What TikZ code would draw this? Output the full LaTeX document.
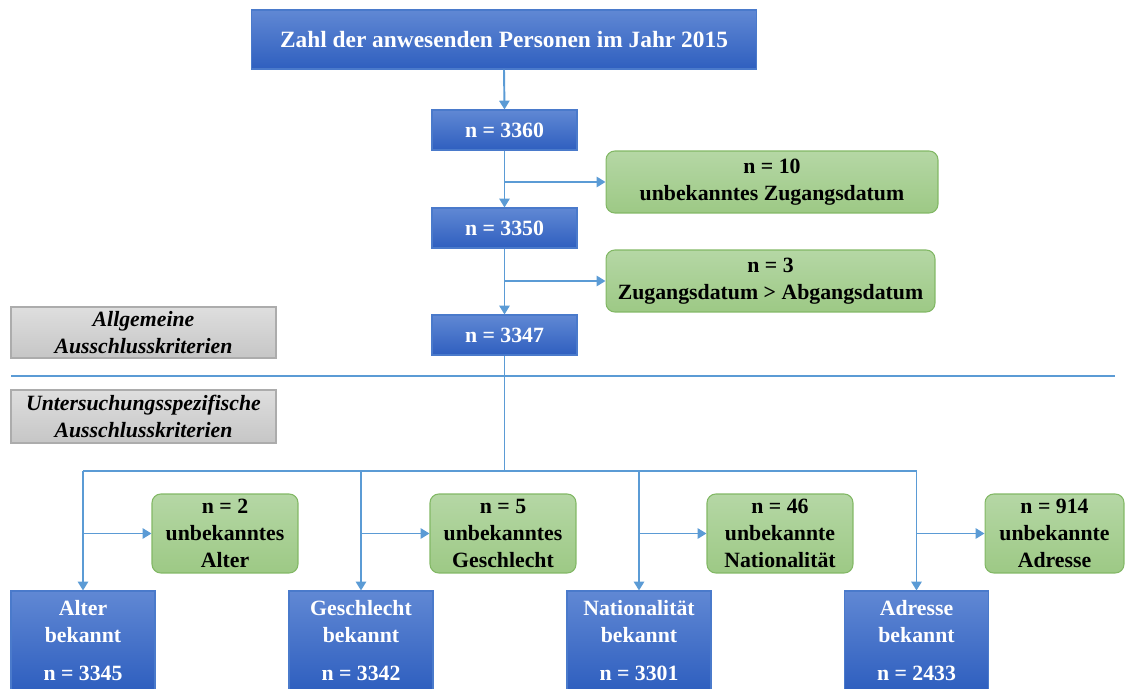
\documentclass[tikz,border=0pt]{standalone}
\usepackage{fontspec}
\setmainfont{Liberation Serif}
\usetikzlibrary{arrows.meta}
\definecolor{lineblue}{HTML}{5B9BD5}
\definecolor{bluetop}{HTML}{6088D4}
\definecolor{bluebot}{HTML}{2F5FBF}
\definecolor{blueedge}{HTML}{4A7ACB}
\definecolor{greentop}{HTML}{B5D7A5}
\definecolor{greenbot}{HTML}{9DC985}
\definecolor{greenedge}{HTML}{82B865}
\definecolor{graytop}{HTML}{DEDEDE}
\definecolor{graybot}{HTML}{C6C6C6}
\definecolor{grayedge}{HTML}{ACACAC}
\tikzset{
  txt/.style={font=\fontsize{12.4}{15.3}\selectfont\bfseries, align=center, inner sep=0pt},
  bluebox/.style={txt, text=white, draw=blueedge, line width=0.6pt, top color=bluetop, bottom color=bluebot},
  greenbox/.style={txt, text=black, draw=greenedge, line width=0.6pt, rounded corners=5pt, top color=greentop, bottom color=greenbot},
  graybox/.style={txt, text=black, font=\fontsize{12.4}{15.3}\selectfont\bfseries\itshape, draw=grayedge, line width=0.6pt, top color=graytop, bottom color=graybot},
  conn/.style={draw=lineblue, line width=1.1pt},
  arr/.style={conn, -{Triangle[length=5pt,width=5.8pt]}}
}
\begin{document}
\begin{tikzpicture}[x=0.02cm, y=-0.02cm]
\useasboundingbox (0,0) rectangle (1125,689);
% top column
\node[bluebox, font=\fontsize{13.3}{16}\selectfont\bfseries, minimum width=10.12cm, minimum height=1.18cm] (title) at (504,39.5) {Zahl der anwesenden Personen im Jahr 2015};
\node[bluebox, minimum width=2.9cm, minimum height=0.8cm] (n1) at (504.5,130) {n = 3360};
\node[bluebox, minimum width=2.9cm, minimum height=0.8cm] (n2) at (504.5,228) {n = 3350};
\node[bluebox, minimum width=2.9cm, minimum height=0.8cm] (n3) at (504.5,335) {n = 3347};
\node[greenbox, minimum width=6.64cm, minimum height=1.24cm] (g1) at (772,182) {n = 10\\unbekanntes Zugangsdatum};
\node[greenbox, minimum width=6.58cm, minimum height=1.24cm] (g2) at (770.5,281) {n = 3\\Zugangsdatum > Abgangsdatum};
% gray labels
\node[graybox, minimum width=5.3cm, minimum height=1.02cm] (k1) at (143.5,332.5) {Allgemeine\\Ausschlusskriterien};
\node[graybox, minimum width=5.3cm, minimum height=1.06cm] (k2) at (143.5,416.5) {Untersuchungsspezifische\\Ausschlusskriterien};
% divider
\draw[conn] (11,376) -- (1115,376);
% bottom row
\node[greenbox, minimum width=2.92cm, minimum height=1.58cm] (r1) at (225,533.5) {n = 2\\unbekanntes\\Alter};
\node[greenbox, minimum width=2.92cm, minimum height=1.58cm] (r2) at (503,533.5) {n = 5\\unbekanntes\\Geschlecht};
\node[greenbox, minimum width=2.92cm, minimum height=1.58cm] (r3) at (780,533.5) {n = 46\\unbekannte\\Nationalität};
\node[greenbox, minimum width=2.78cm, minimum height=1.58cm] (r4) at (1054.5,533.5) {n = 914\\unbekannte\\Adresse};
\node[bluebox, minimum width=2.88cm, minimum height=1.98cm] (b1) at (83,640.5) {Alter\\bekannt\\[6pt]n = 3345};
\node[bluebox, minimum width=2.88cm, minimum height=1.98cm] (b2) at (361,640.5) {Geschlecht\\bekannt\\[6pt]n = 3342};
\node[bluebox, minimum width=2.88cm, minimum height=1.98cm] (b3) at (639,640.5) {Nationalität\\bekannt\\[6pt]n = 3301};
\node[bluebox, minimum width=2.88cm, minimum height=1.98cm] (b4) at (916.5,640.5) {Adresse\\bekannt\\[6pt]n = 2433};
\coordinate (bus) at (504.5,471);
% connectors top
\draw[arr] (title.south) -- (n1.north);
\draw[arr] (n1.south) -- (n2.north);
\draw[arr] (n1.south |- g1.west) -- (g1.west);
\draw[arr] (n2.south) -- (n3.north);
\draw[arr] (n2.south |- g2.west) -- (g2.west);
% connectors bottom
\draw[conn] (n3.south) -- (bus);
\draw[conn] (b1.north |- bus) -- (b4.north |- bus);
\foreach \b/\r in {b1/r1,b2/r2,b3/r3,b4/r4}{
  \draw[arr] (\b.north |- bus) -- (\b.north);
  \draw[arr] (\b.north |- \r.west) -- (\r.west);
}
\end{tikzpicture}
\end{document}
